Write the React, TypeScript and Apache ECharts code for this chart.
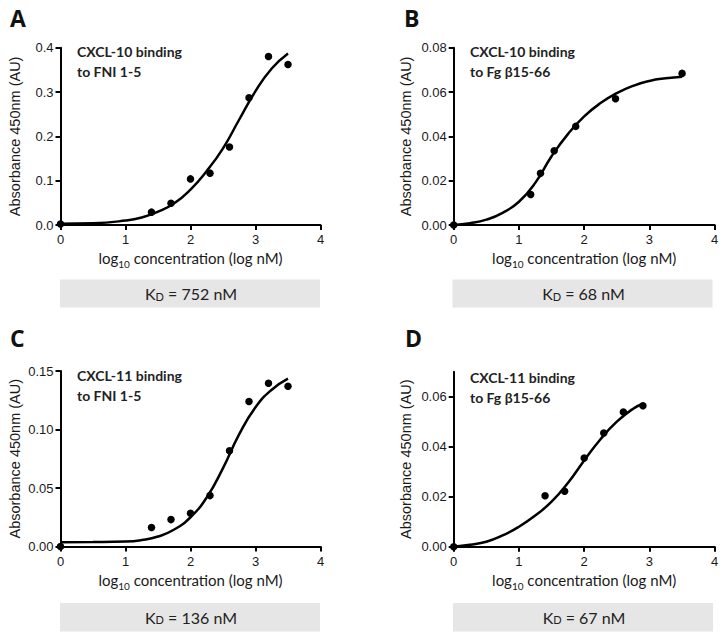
import React, { useEffect, useRef } from "react";
import * as echarts from "echarts";

// ---------- data ----------
const panelLetters = ["A", "B", "C", "D"];
const panelTitles = [
  "CXCL-10 binding\nto FNI 1-5",
  "CXCL-10 binding\nto Fg β15-66",
  "CXCL-11 binding\nto FNI 1-5",
  "CXCL-11 binding\nto Fg β15-66",
];
const kdValues = ["752", "68", "136", "67"];
const xTicks = [0, 1, 2, 3, 4];

const yMaxes = [0.4, 0.08, 0.15, 0.07];
const yTicksA = [0, 0.1, 0.2, 0.3, 0.4];
const yTicksB = [0, 0.02, 0.04, 0.06, 0.08];
const yTicksC = [0, 0.05, 0.1, 0.15];
const yTicksD = [0, 0.02, 0.04, 0.06];

// measured points
const ptsAx = [0, 1.4, 1.7, 2.0, 2.3, 2.6, 2.9, 3.2, 3.5];
const ptsAy = [0.002, 0.029, 0.049, 0.104, 0.117, 0.176, 0.287, 0.38, 0.362];
const ptsBx = [0, 1.18, 1.33, 1.54, 1.87, 2.48, 3.5];
const ptsBy = [0.0, 0.0138, 0.0233, 0.0335, 0.0445, 0.057, 0.0684];
const ptsCx = [0, 1.4, 1.7, 2.0, 2.3, 2.6, 2.9, 3.2, 3.5];
const ptsCy = [0.0, 0.0162, 0.023, 0.0284, 0.0435, 0.0818, 0.124, 0.1395, 0.137];
const ptsDx = [0, 1.4, 1.7, 2.0, 2.3, 2.6, 2.9];
const ptsDy = [0.0, 0.0204, 0.0222, 0.0355, 0.0455, 0.0539, 0.0564];

// fitted curves
const fitAx = [0, 0.5, 1, 1.25, 1.5, 1.75, 2, 2.25, 2.5, 2.75, 3, 3.25, 3.5];
const fitAy = [0.003, 0.004, 0.01, 0.017, 0.03, 0.049, 0.08, 0.122, 0.173, 0.238, 0.302, 0.353, 0.387];
const fitBx = [0, 0.25, 0.5, 0.75, 1, 1.25, 1.5, 1.75, 2, 2.25, 2.5, 2.75, 3, 3.25, 3.5];
const fitBy = [0, 0.0008, 0.0024, 0.0055, 0.0105, 0.019, 0.031, 0.041, 0.049, 0.055, 0.0595, 0.0628, 0.065, 0.0662, 0.0669];
const fitCx = [0, 0.5, 1, 1.25, 1.5, 1.75, 2, 2.25, 2.5, 2.75, 3, 3.25, 3.5];
const fitCy = [0.0037, 0.0038, 0.0042, 0.0055, 0.0085, 0.0145, 0.025, 0.042, 0.067, 0.096, 0.119, 0.134, 0.1435];
const fitDx = [0, 0.25, 0.5, 0.75, 1, 1.25, 1.5, 1.75, 2, 2.25, 2.5, 2.75, 2.9];
const fitDy = [0, 0.0008, 0.002, 0.0045, 0.008, 0.0125, 0.018, 0.0255, 0.0345, 0.043, 0.05, 0.0552, 0.0572];

// ---------- layout ----------
const grids = [
  { left: 60.5, top: 47.7, width: 260, height: 177.3 },
  { left: 453.7, top: 47.7, width: 261, height: 177.3 },
  { left: 60.5, top: 371, width: 260, height: 175.5 },
  { left: 453.7, top: 371.7, width: 261, height: 175 },
];
const letterPos = [
  [10, 6],
  [404, 6],
  [10, 326],
  [405, 326],
];
const titlePos = [
  [77, 41.5],
  [470, 41.5],
  [77, 365],
  [470, 367],
];
const boxes = [
  { x: 60, y: 279.5, w: 260, h: 28 },
  { x: 452.5, y: 279.5, w: 260, h: 28 },
  { x: 60, y: 603, w: 260, h: 28.5 },
  { x: 453, y: 603, w: 260, h: 28.5 },
];
const yNameGaps = [38.5, 40.5, 38.5, 40.5];

const TXT = "#1a1a1a";
const zip = (xs: number[], ys: number[]) => xs.map((x, i) => [x, ys[i]]);

export default function App() {
  const ref = useRef<HTMLDivElement>(null);
  useEffect(() => {
    if (!ref.current) return;
    const chart = echarts.init(ref.current, undefined, { renderer: "svg" });
    const yTicks = [yTicksA, yTicksB, yTicksC, yTicksD];
    const decimals = [1, 2, 2, 2];
    const pts = [zip(ptsAx, ptsAy), zip(ptsBx, ptsBy), zip(ptsCx, ptsCy), zip(ptsDx, ptsDy)];
    const fits = [zip(fitAx, fitAy), zip(fitBx, fitBy), zip(fitCx, fitCy), zip(fitDx, fitDy)];

    const axisLine = { show: true, onZero: false, lineStyle: { color: "#000", width: 2 } };
    const axisTickBase = { show: true, inside: false, length: 5, lineStyle: { color: "#000", width: 2 } };

    const xAxis = grids.map((_, i) => ({
      type: "value",
      gridIndex: i,
      min: 0,
      max: 4,
      interval: 1,
      axisLine,
      axisTick: { ...axisTickBase, customValues: xTicks },
      axisLabel: {
        customValues: xTicks,
        color: TXT,
        fontFamily: "Liberation Sans",
        fontSize: 13,
        margin: 8,
      },
      splitLine: { show: false },
      name: "log{sub|10} concentration (log nM)",
      nameLocation: "middle",
      nameGap: 22,
      nameTextStyle: {
        color: TXT,
        fontFamily: "Lato",
        fontSize: 15,
        lineHeight: 22,
        rich: {
          sub: { color: TXT, fontFamily: "Lato", fontSize: 10, lineHeight: 10, verticalAlign: "bottom" },
        },
      },
    }));

    const yAxis = grids.map((_, i) => ({
      type: "value",
      gridIndex: i,
      min: 0,
      max: yMaxes[i],
      axisLine,
      axisTick: { ...axisTickBase, customValues: yTicks[i] },
      axisLabel: {
        customValues: yTicks[i],
        color: TXT,
        fontFamily: "Liberation Sans",
        fontSize: 13,
        margin: 7,
        formatter: (v: number) => v.toFixed(decimals[i]),
      },
      splitLine: { show: false },
      name: "Absorbance 450nm (AU)",
      nameLocation: "middle",
      nameGap: yNameGaps[i],
      nameTextStyle: { color: TXT, fontFamily: "Liberation Sans", fontSize: 14.5 },
    }));

    const series: any[] = [];
    grids.forEach((_, i) => {
      series.push({
        type: "line",
        xAxisIndex: i,
        yAxisIndex: i,
        data: fits[i],
        smooth: 0.5,
        showSymbol: false,
        symbol: "none",
        lineStyle: { color: "#000", width: 2.5 },
        silent: true,
      });
      series.push({
        type: "scatter",
        xAxisIndex: i,
        yAxisIndex: i,
        data: pts[i],
        symbol: "circle",
        symbolSize: 7.5,
        itemStyle: { color: "#000", opacity: 1 },
        clip: false,
        z: 3,
      });
    });

    const graphic: any[] = [];
    grids.forEach((_, i) => {
      graphic.push({
        type: "text",
        left: letterPos[i][0],
        top: letterPos[i][1],
        style: {
          text: panelLetters[i],
          fontFamily: "Open Sans",
          fontWeight: "bold",
          fontSize: 23,
          fill: "#111",
        },
      });
      graphic.push({
        type: "text",
        x: titlePos[i][0],
        y: titlePos[i][1],
        style: {
          text: panelTitles[i],
          fontFamily: "Lato",
          fontWeight: "bold",
          fontSize: 14,
          lineHeight: 20,
          fill: "#222",
          verticalAlign: "top",
        },
      });
      const b = boxes[i];
      graphic.push({
        type: "rect",
        shape: { x: b.x, y: b.y, width: b.w, height: b.h },
        style: { fill: "#e6e6e6" },
        z: 0,
      });
      graphic.push({
        type: "text",
        x: b.x + b.w / 2 + 1,
        y: b.y + b.h / 2,
        z: 1,
        style: {
          text: `{k|K}{d|D}{t| = ${kdValues[i]} nM}`,
          align: "center",
          verticalAlign: "middle",
          rich: {
            k: { fontFamily: "Lato", fontSize: 16, fill: "#222", verticalAlign: "bottom" },
            d: { fontFamily: "Lato", fontSize: 11, fill: "#222", verticalAlign: "bottom" },
            t: { fontFamily: "Lato", fontSize: 16, fill: "#222", verticalAlign: "bottom" },
          },
        },
      });
    });

    chart.setOption({
      animation: false,
      backgroundColor: "#fff",
      grid: grids.map((g) => ({ ...g, containLabel: false })),
      xAxis,
      yAxis,
      series,
      graphic,
    });
    return () => chart.dispose();
  }, []);
  return (
    <div
      ref={ref}
      style={{ position: "fixed", left: 0, top: 0, width: 726, height: 640 }}
    />
  );
}
